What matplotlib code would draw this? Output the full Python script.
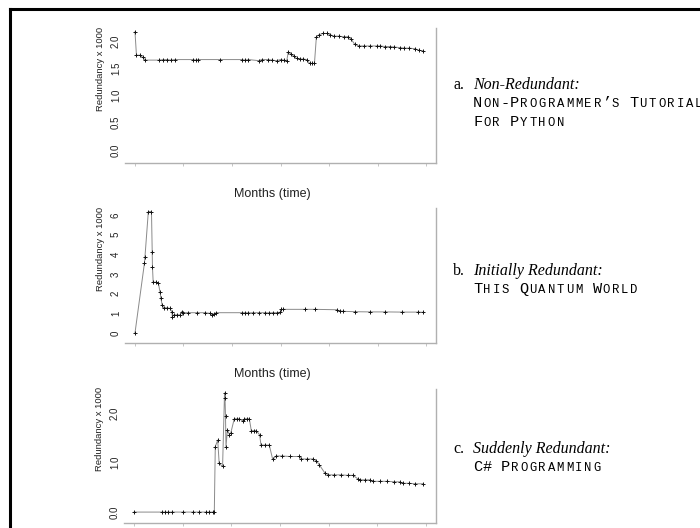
import matplotlib
matplotlib.use("Agg")
import matplotlib.pyplot as plt
from matplotlib.lines import Line2D

plt.rcParams['font.family'] = ['Liberation Sans', 'DejaVu Sans']

# months (x) and redundancy x 1000 (y)
months_a = [0.0, 0.3, 1.0, 1.6, 2.1, 5.0, 5.8, 6.6, 7.4, 8.2, 12.0, 12.6, 13.0,
            17.5, 22.0, 22.7, 23.4, 25.5, 26.1, 27.5, 28.3, 29.2, 30.0, 30.7,
            31.3, 31.6, 32.2, 32.8, 33.3, 34.0, 34.7, 35.4, 36.0, 36.5, 37.0,
            37.4, 38.0, 38.8, 39.5, 40.2, 41.0, 42.0, 43.0, 44.0, 44.6, 45.3,
            46.2, 47.3, 48.5, 49.8, 50.6, 51.5, 52.5, 53.5, 54.6, 55.5, 56.5,
            57.7, 58.6, 59.4]
redund_a = [2.17, 1.74, 1.74, 1.70, 1.65, 1.65, 1.66, 1.66, 1.65, 1.66, 1.66,
            1.65, 1.66, 1.66, 1.66, 1.65, 1.66, 1.64, 1.66, 1.66, 1.65, 1.64,
            1.66, 1.65, 1.64, 1.80, 1.76, 1.72, 1.68, 1.67, 1.67, 1.66, 1.59,
            1.59, 1.59, 2.08, 2.12, 2.14, 2.14, 2.12, 2.09, 2.09, 2.08, 2.08,
            2.03, 1.94, 1.91, 1.91, 1.91, 1.91, 1.91, 1.90, 1.90, 1.89, 1.88,
            1.87, 1.87, 1.86, 1.83, 1.82]

months_b = [0.0, 1.95, 2.06, 2.75, 3.4, 3.55, 3.6, 3.75, 4.3, 4.8, 5.15, 5.35,
            5.6, 5.9, 6.5, 7.2, 7.6, 7.7, 8.0, 8.6, 9.3, 9.6, 10.0, 11.0,
            12.7, 14.4, 15.4, 15.8, 16.3, 16.8, 22.0, 22.7, 23.4, 24.4, 25.5,
            26.8, 27.6, 28.4, 29.2, 29.9, 30.2, 30.6, 35.0, 37.1, 41.6, 42.2,
            42.9, 45.4, 48.5, 51.6, 55.0, 58.4, 59.4]
redund_b = [0.0, 3.55, 3.88, 6.17, 6.17, 4.13, 3.37, 2.58, 2.58, 2.55, 2.10,
            1.76, 1.42, 1.29, 1.28, 1.25, 1.08, 0.83, 0.92, 0.92, 0.92, 1.08,
            1.03, 1.03, 1.03, 1.03, 1.0, 0.92, 0.98, 1.03, 1.03, 1.03, 1.02,
            1.03, 1.03, 1.03, 1.02, 1.03, 1.03, 1.05, 1.20, 1.20, 1.20, 1.20,
            1.18, 1.12, 1.10, 1.08, 1.07, 1.07, 1.06, 1.06, 1.05]

months_c = [0.0, 5.8, 6.4, 7.0, 7.9, 10.0, 12.1, 13.4, 14.8, 15.5, 16.2, 16.5,
            16.7, 17.2, 17.5, 18.2, 18.6, 18.7, 18.8, 18.9, 19.2, 19.6, 19.9,
            20.6, 21.1, 21.6, 22.3, 22.7, 23.2, 23.7, 24.1, 24.6, 25.1, 25.8,
            26.1, 27.0, 27.8, 28.5, 29.2, 30.5, 32.0, 34.0, 34.4, 35.6, 36.8,
            37.5, 38.1, 39.2, 39.9, 41.0, 42.5, 44.0, 45.0, 46.0, 46.4, 47.5,
            48.5, 49.1, 50.5, 52.0, 53.5, 54.6, 55.3, 56.5, 57.8, 59.4]
redund_c = [0.0, 0.0, 0.0, 0.0, 0.0, 0.0, 0.0, 0.0, 0.0, 0.0, 0.0, 0.0,
            1.32, 1.45, 0.98, 0.92, 2.40, 2.30, 1.93, 1.32, 1.66, 1.56, 1.60,
            1.88, 1.88, 1.88, 1.84, 1.88, 1.88, 1.88, 1.64, 1.64, 1.64, 1.56,
            1.35, 1.35, 1.35, 1.06, 1.13, 1.13, 1.12, 1.12, 1.07, 1.07, 1.07,
            1.03, 0.95, 0.79, 0.75, 0.75, 0.75, 0.74, 0.74, 0.67, 0.65, 0.65,
            0.65, 0.62, 0.62, 0.62, 0.61, 0.61, 0.58, 0.58, 0.57, 0.57]

yticks_a = [0.0, 0.5, 1.0, 1.5, 2.0]
ylabels_a = ['0.0', '0.5', '1.0', '1.5', '2.0']
yticks_b = [0, 1, 2, 3, 4, 5, 6]
ylabels_b = ['0', '1', '2', '3', '4', '5', '6']
yticks_c = [0.0, 1.0, 2.0]
ylabels_c = ['0.0', '1.0', '2.0']
month_ticks = [0, 10, 20, 30, 40, 50, 60]

labels = ['a.', 'b.', 'c.']
kinds = ['Non-Redundant:', 'Initially Redundant:', 'Suddenly Redundant:']
titles = [['NON-PROGRAMMER\u2019S TUTORIAL', 'FOR PYTHON'],
          ['THIS QUANTUM WORLD'],
          ['C# PROGRAMMING']]

W, H = 700, 528
fig = plt.figure(figsize=(7, 5.28), dpi=100)


def px_axes(left, top, right, bottom):
    return fig.add_axes([left / W, 1 - bottom / H, (right - left) / W, (bottom - top) / H])


panels = [
    (px_axes(125, 28, 436, 163), months_a, redund_a, (-0.24, 2.24), yticks_a, ylabels_a),
    (px_axes(125, 208, 436, 343), months_b, redund_b, (-0.51, 6.35), yticks_b, ylabels_b),
    (px_axes(124, 389, 436, 523), months_c, redund_c, (-0.22, 2.48), yticks_c, ylabels_c),
]

for ax, xs, ys, ylim, yt, yl in panels:
    ax.plot(xs, ys, color='#8a8a8a', lw=0.7, marker='+', ms=3,
            mec='#111111', mew=0.7)
    ax.set_xlim(-2.06, 62.06)
    ax.set_ylim(*ylim)
    ax.set_xticks(month_ticks)
    ax.set_xticklabels([])
    ax.set_yticks(yt)
    ax.set_yticklabels(yl, rotation=90, va='center')
    ax.tick_params(axis='y', length=0, pad=3, labelsize=7, labelcolor='#222222')
    ax.tick_params(axis='x', length=2.5, width=0.6, color='#bbbbbb')
    for side in ['left', 'top']:
        ax.spines[side].set_visible(False)
    for side in ['right', 'bottom']:
        ax.spines[side].set_color('#b0b0b0')
        ax.spines[side].set_linewidth(1.0)
    ax.set_ylabel('Redundancy x 1000', fontsize=6.8, color='#222222')
    ax.yaxis.set_label_coords(-0.064, 0.70)

for ax in [panels[0][0], panels[1][0]]:
    ax.text(0.474, -0.23, 'Months (time)', transform=ax.transAxes,
            ha='center', va='center', fontsize=9, color='#222222')

# captions on the right
serif = ['Liberation Serif', 'DejaVu Serif']
mono = ['Liberation Mono', 'DejaVu Sans Mono']
baselines = [[89, 107, 126], [275, 293], [453, 471]]
adv = 9.2


def small_caps(x0, ybase, s):
    prev = False
    for i, ch in enumerate(s):
        big = not (ch.isalpha() and prev)
        fig.text((x0 + (i + 0.5) * adv) / W, 1 - ybase / H, ch, family=mono,
                 fontsize=11 if big else 8.8, ha='center', va='baseline')
        prev = ch.isalpha() or (ch == '\u2019' and prev)


for k in range(3):
    yb = baselines[k]
    fig.text(453 / W, 1 - yb[0] / H, labels[k], family=serif, fontsize=11.5,
             ha='left', va='baseline')
    fig.text(473 / W, 1 - yb[0] / H, kinds[k], family=serif, style='italic',
             fontsize=11.5, ha='left', va='baseline')
    for j, line in enumerate(titles[k]):
        small_caps(473, yb[j + 1], line)

# frame of the original figure (only left and top edges fall inside)
fig.add_artist(Line2D([10 / W, 10 / W], [0, 1 - 9 / H], color='black', lw=2.2))
fig.add_artist(Line2D([10 / W, 1], [1 - 9 / H, 1 - 9 / H], color='black', lw=2.2))

fig.savefig('out.png', dpi=100)
